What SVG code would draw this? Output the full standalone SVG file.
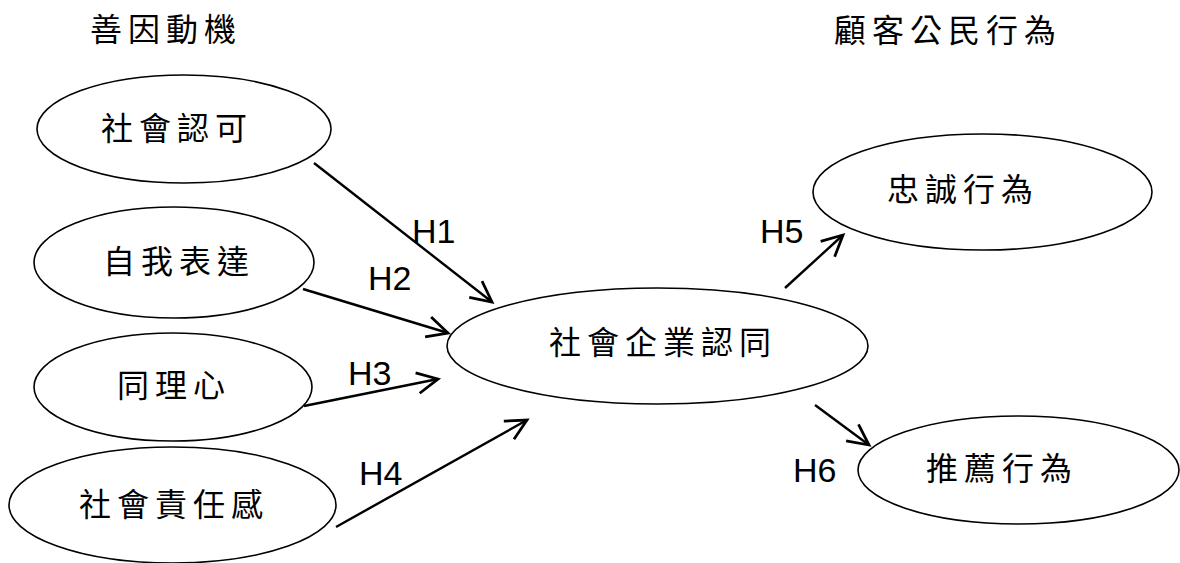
<svg xmlns="http://www.w3.org/2000/svg" width="1180" height="563" viewBox="0 0 1180 563">
<style>
.n{fill:#fff;stroke:#000;stroke-width:1.6}
.t{font-family:"Noto Sans CJK TC","Noto Sans CJK SC",sans-serif;font-size:32px;letter-spacing:6px;fill:#000}
.h{font-family:"Liberation Sans",Arial,sans-serif;font-size:34px;fill:#000}
.c{stroke:#000;stroke-width:2.4;fill:none;marker-end:url(#ah)}
</style>
<defs>
<marker id="ah" markerUnits="userSpaceOnUse" markerWidth="30" markerHeight="30" viewBox="-22 -12 26 24" refX="0" refY="0" orient="auto">
<path d="M-18,-9 L0,0 L-18,9" fill="none" stroke="#000" stroke-width="2.4" stroke-linejoin="miter"/>
</marker>
</defs>
<rect width="1180" height="563" fill="#fff"/>
<text class="t" x="90" y="41">善因動機</text>
<text class="t" x="834" y="42">顧客公民行為</text>
<g id="n1"><ellipse class="n" cx="184" cy="129" rx="147" ry="54"/><text class="t" x="101" y="140">社會認可</text></g>
<g id="n2"><ellipse class="n" cx="174" cy="262.5" rx="140" ry="55.5"/><text class="t" x="103" y="273">自我表達</text></g>
<g id="n3"><ellipse class="n" cx="173" cy="387" rx="139" ry="54"/><text class="t" x="117" y="397">同理心</text></g>
<g id="n4"><ellipse class="n" cx="172.5" cy="505" rx="163.5" ry="58"/><text class="t" x="79" y="516">社會責任感</text></g>
<g id="n5"><ellipse class="n" cx="657.5" cy="346" rx="210.5" ry="58"/><text class="t" x="549" y="354">社會企業認同</text></g>
<g id="n6"><ellipse class="n" cx="982.5" cy="192" rx="169.5" ry="58"/><text class="t" x="887" y="201">忠誠行為</text></g>
<g id="n7"><ellipse class="n" cx="1018.5" cy="470" rx="160.5" ry="54"/><text class="t" x="926" y="480">推薦行為</text></g>
<g id="connectors">
<line class="c" x1="314" y1="163" x2="492" y2="302"/>
<line class="c" x1="303" y1="289" x2="448" y2="333"/>
<line class="c" x1="304" y1="406" x2="438" y2="379"/>
<line class="c" x1="336" y1="527" x2="527" y2="420"/>
<line class="c" x1="785" y1="288" x2="843" y2="235"/>
<line class="c" x1="815" y1="405" x2="869" y2="445"/>
<text class="h" x="412" y="243">H1</text>
<text class="h" x="368" y="290">H2</text>
<text class="h" x="348" y="385">H3</text>
<text class="h" x="359" y="485">H4</text>
<text class="h" x="760" y="243">H5</text>
<text class="h" x="793" y="482">H6</text>
</g>
</svg>
